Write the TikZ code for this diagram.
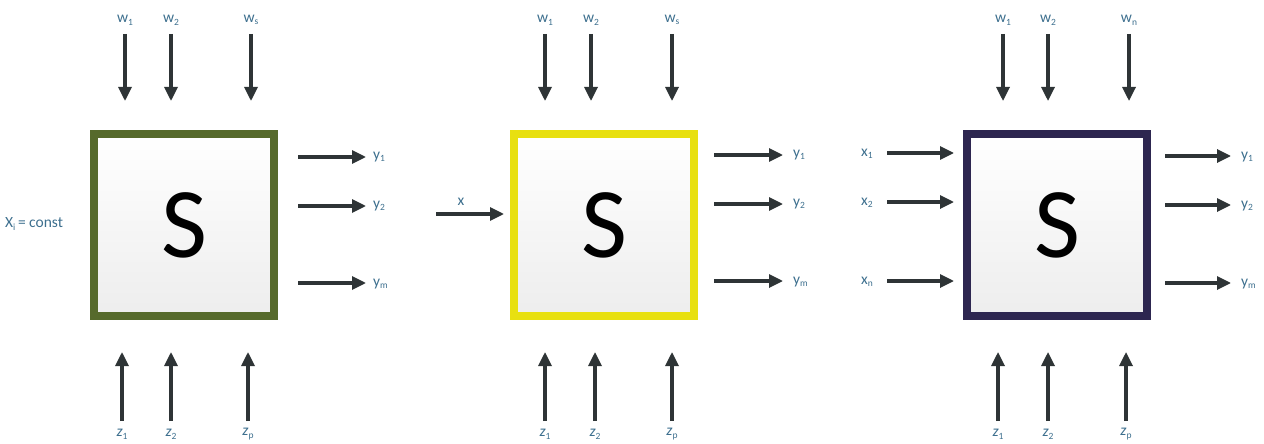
\documentclass[tikz,border=0pt]{standalone}
\usepackage{fontspec}
\setmainfont{Carlito}
\usetikzlibrary{arrows.meta}
\definecolor{lbl}{HTML}{3D6F8E}
\definecolor{arrc}{HTML}{2E3436}
\definecolor{olive}{HTML}{566A2C}
\definecolor{yel}{HTML}{E8E010}
\definecolor{purp}{HTML}{2D2650}
\newcommand{\sbs}[1]{\raisebox{-0.35ex}{\fontsize{9.5}{10}\selectfont #1}}
\tikzset{
  arr/.style={draw=arrc, line width=3.2pt, -{Triangle[length=14pt,width=13pt]}},
  lab/.style={text=lbl, font=\fontsize{15.5}{16}\selectfont, inner sep=1pt},
  sysbox/.style={line width=8pt, minimum width=180pt, minimum height=182pt,
     top color=white, bottom color=black!7, inner sep=0pt,
     font=\fontsize{100}{102}\selectfont, text=black}
}
\begin{document}
\begin{tikzpicture}[x=1pt,y=-1pt]
\useasboundingbox (0,0) rectangle (1264,444);
% ---------------- Panel 1 ----------------
\node[sysbox, draw=olive] (S1) at (184,225) {S};
\node[lab] (a1w1) at (125,20) {w\sbs{1}};
\node[lab] (a1w2) at (171,20) {w\sbs{2}};
\node[lab] (a1w3) at (251,20) {w\sbs{s}};
\coordinate (a1w1s) at (125,34); \coordinate (a1w1e) at (125,101);
\coordinate (a1w2s) at (171,34); \coordinate (a1w2e) at (171,101);
\coordinate (a1w3s) at (251,34); \coordinate (a1w3e) at (251,101);
\draw[arr] (a1w1s) -- (a1w1e);
\draw[arr] (a1w2s) -- (a1w2e);
\draw[arr] (a1w3s) -- (a1w3e);
\node[lab] (a1z1) at (122,434) {\textit{z}\sbs{1}};
\node[lab] (a1z2) at (171,434) {\textit{z}\sbs{2}};
\node[lab] (a1z3) at (248,434) {\textit{z}\sbs{p}};
\coordinate (a1z1s) at (122,421); \coordinate (a1z1e) at (122,352);
\coordinate (a1z2s) at (171,421); \coordinate (a1z2e) at (171,352);
\coordinate (a1z3s) at (248,421); \coordinate (a1z3e) at (248,352);
\draw[arr] (a1z1s) -- (a1z1e);
\draw[arr] (a1z2s) -- (a1z2e);
\draw[arr] (a1z3s) -- (a1z3e);
\coordinate (a1y1s) at (298,157); \coordinate (a1y1e) at (366,157);
\coordinate (a1y2s) at (298,206); \coordinate (a1y2e) at (366,206);
\coordinate (a1y3s) at (298,283); \coordinate (a1y3e) at (366,283);
\draw[arr] (a1y1s) -- (a1y1e);
\draw[arr] (a1y2s) -- (a1y2e);
\draw[arr] (a1y3s) -- (a1y3e);
\node[lab, anchor=west] (a1y1) at (372,157) {y\sbs{1}};
\node[lab, anchor=west] (a1y2) at (372,206) {y\sbs{2}};
\node[lab, anchor=west] (a1y3) at (372,284) {y\sbs{m}};
\node[lab, anchor=west] (a1x) at (4,224) {X\sbs{i}\,= const};
% ---------------- Panel 2 ----------------
\node[sysbox, draw=yel] (S2) at (604,225) {S};
\node[lab] (a2w1) at (545,20) {w\sbs{1}};
\node[lab] (a2w2) at (591,20) {w\sbs{2}};
\node[lab] (a2w3) at (672,20) {w\sbs{s}};
\coordinate (a2w1s) at (545,34); \coordinate (a2w1e) at (545,101);
\coordinate (a2w2s) at (591,34); \coordinate (a2w2e) at (591,101);
\coordinate (a2w3s) at (672,34); \coordinate (a2w3e) at (672,101);
\draw[arr] (a2w1s) -- (a2w1e);
\draw[arr] (a2w2s) -- (a2w2e);
\draw[arr] (a2w3s) -- (a2w3e);
\node[lab] (a2z1) at (545,434) {\textit{z}\sbs{1}};
\node[lab] (a2z2) at (595,434) {\textit{z}\sbs{2}};
\node[lab] (a2z3) at (672,434) {\textit{z}\sbs{p}};
\coordinate (a2z1s) at (545,421); \coordinate (a2z1e) at (545,352);
\coordinate (a2z2s) at (595,421); \coordinate (a2z2e) at (595,352);
\coordinate (a2z3s) at (672,421); \coordinate (a2z3e) at (672,352);
\draw[arr] (a2z1s) -- (a2z1e);
\draw[arr] (a2z2s) -- (a2z2e);
\draw[arr] (a2z3s) -- (a2z3e);
\coordinate (a2y1s) at (714,155); \coordinate (a2y1e) at (783,155);
\coordinate (a2y2s) at (714,204); \coordinate (a2y2e) at (783,204);
\coordinate (a2y3s) at (714,281); \coordinate (a2y3e) at (783,281);
\draw[arr] (a2y1s) -- (a2y1e);
\draw[arr] (a2y2s) -- (a2y2e);
\draw[arr] (a2y3s) -- (a2y3e);
\node[lab, anchor=west] (a2y1) at (792,155) {y\sbs{1}};
\node[lab, anchor=west] (a2y2) at (792,204) {y\sbs{2}};
\node[lab, anchor=west] (a2y3) at (792,282) {y\sbs{m}};
\coordinate (a2xs) at (436,214); \coordinate (a2xe) at (504,214);
\draw[arr] (a2xs) -- (a2xe);
\node[lab] (a2x) at (461,202) {x};
% ---------------- Panel 3 ----------------
\node[sysbox, draw=purp] (S3) at (1057,225) {S};
\node[lab] (a3w1) at (1003,20) {w\sbs{1}};
\node[lab] (a3w2) at (1048,20) {w\sbs{2}};
\node[lab] (a3w3) at (1129,20) {w\sbs{n}};
\coordinate (a3w1s) at (1003,34); \coordinate (a3w1e) at (1003,101);
\coordinate (a3w2s) at (1048,34); \coordinate (a3w2e) at (1048,101);
\coordinate (a3w3s) at (1129,34); \coordinate (a3w3e) at (1129,101);
\draw[arr] (a3w1s) -- (a3w1e);
\draw[arr] (a3w2s) -- (a3w2e);
\draw[arr] (a3w3s) -- (a3w3e);
\node[lab] (a3z1) at (998,434) {\textit{z}\sbs{1}};
\node[lab] (a3z2) at (1048,434) {\textit{z}\sbs{2}};
\node[lab] (a3z3) at (1126,434) {\textit{z}\sbs{p}};
\coordinate (a3z1s) at (998,421); \coordinate (a3z1e) at (998,352);
\coordinate (a3z2s) at (1048,421); \coordinate (a3z2e) at (1048,352);
\coordinate (a3z3s) at (1126,421); \coordinate (a3z3e) at (1126,352);
\draw[arr] (a3z1s) -- (a3z1e);
\draw[arr] (a3z2s) -- (a3z2e);
\draw[arr] (a3z3s) -- (a3z3e);
\node[lab, anchor=west] (a3x1) at (860,154) {x\sbs{1}};
\node[lab, anchor=west] (a3x2) at (860,203) {x\sbs{2}};
\node[lab, anchor=west] (a3x3) at (860,282) {x\sbs{n}};
\coordinate (a3x1s) at (887,153); \coordinate (a3x1e) at (954,153);
\coordinate (a3x2s) at (887,202); \coordinate (a3x2e) at (954,202);
\coordinate (a3x3s) at (887,281); \coordinate (a3x3e) at (954,281);
\draw[arr] (a3x1s) -- (a3x1e);
\draw[arr] (a3x2s) -- (a3x2e);
\draw[arr] (a3x3s) -- (a3x3e);
\coordinate (a3y1s) at (1165,156); \coordinate (a3y1e) at (1231,156);
\coordinate (a3y2s) at (1165,205); \coordinate (a3y2e) at (1231,205);
\coordinate (a3y3s) at (1165,283); \coordinate (a3y3e) at (1231,283);
\draw[arr] (a3y1s) -- (a3y1e);
\draw[arr] (a3y2s) -- (a3y2e);
\draw[arr] (a3y3s) -- (a3y3e);
\node[lab, anchor=west] (a3y1) at (1240,157) {y\sbs{1}};
\node[lab, anchor=west] (a3y2) at (1240,206) {y\sbs{2}};
\node[lab, anchor=west] (a3y3) at (1240,284) {y\sbs{m}};
\end{tikzpicture}
\end{document}
